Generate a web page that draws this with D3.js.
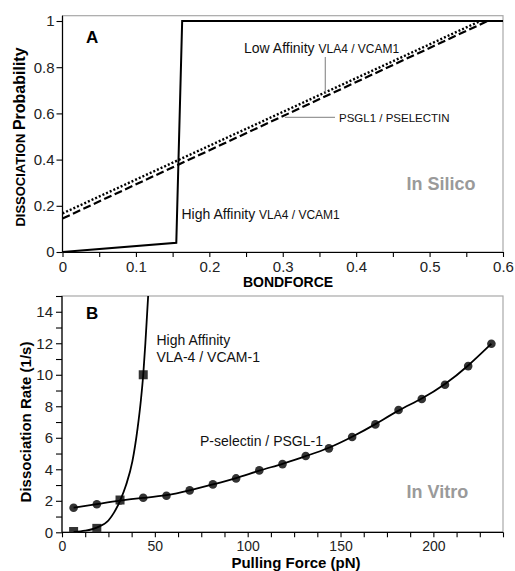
<!DOCTYPE html>
<html>
<head>
<meta charset="utf-8">
<script src="https://cdn.jsdelivr.net/npm/d3@7"></script>
<style>
  body { margin: 0; background: #fff; }
  text { font-family: "Liberation Sans", Arial, sans-serif; }
</style>
</head>
<body>
<script>
// ---------- panel A data (in silico) ----------
var highAffForce = [0, 0.155, 0.163, 0.6]
var highAffProb  = [0, 0.04, 1, 1]
var lowAffForce  = [0, 0.569]
var lowAffProb   = [0.167, 1]
var psglForce    = [0, 0.579]
var psglProb     = [0.145, 1]
var xTicksA      = [0, 0.1, 0.2, 0.3, 0.4, 0.5, 0.6]
var xMinorA      = [0.05, 0.15, 0.25, 0.35, 0.45, 0.55]
var yTicksA      = [0, 0.2, 0.4, 0.6, 0.8, 1]

// ---------- panel B data (in vitro) ----------
var pselForce = [6.25, 18.75, 31.25, 43.75, 56.25, 68.75, 81.25, 93.75, 106.25, 118.75,
                 131.25, 143.75, 156.25, 168.75, 181.25, 193.75, 206.25, 218.75, 231.25]
var pselRate  = [1.56, 1.78, 2.02, 2.19, 2.32, 2.66, 3.04, 3.42, 3.93, 4.33,
                 4.84, 5.33, 6.05, 6.85, 7.76, 8.46, 9.37, 10.55, 11.97]
var vlaForce  = [6.25, 18.75, 31.25, 43.75]
var vlaRate   = [0.05, 0.25, 2.05, 10.0]
// fitted curve for high affinity VLA-4
var vlaFitForce = [6.25, 12.5, 18.75, 25, 28, 31.25, 34.5, 37.9, 40.7, 42.5, 43.75, 44.9, 45.9, 46.4]
var vlaFitRate  = [0.02, 0.1, 0.3, 0.75, 1.25, 2.0, 3.0, 4.5, 6.6, 8.4, 10, 12, 14, 15]
var xTicksB = [0, 50, 100, 150, 200]
var xMinorB = [12.5, 25, 37.5, 62.5, 75, 87.5, 112.5, 125, 137.5, 162.5, 175, 187.5, 212.5, 225, 237.5]
var yTicksB = [0, 2, 4, 6, 8, 10, 12, 14]
var yMinorB = [1, 3, 5, 7, 9, 11, 13, 15]

var width = 515
var height = 571

var svg = d3.select("body").append("svg")
    .attr("width", width)
    .attr("height", height)

function estiloEje(g, size) {
    g.selectAll("path").attr("stroke", "#000").attr("stroke-width", 1.2)
    g.selectAll("line").attr("stroke", "#000").attr("stroke-width", 1.1)
    g.selectAll("text").attr("font-size", size || 15).attr("fill", "#222")
        .attr("font-family", "'Liberation Sans', Arial, sans-serif")
}

// ================= PANEL A =================
var xA = d3.scaleLinear().domain([0, 0.6]).range([62.5, 503])
var yA = d3.scaleLinear().domain([0, 1]).range([252, 21])

var gA = svg.append("g")

// marco gris
gA.append("rect")
    .attr("x", xA(0)).attr("y", yA(1.023))
    .attr("width", xA(0.6) - xA(0)).attr("height", yA(0) - yA(1.023))
    .attr("fill", "none").attr("stroke", "#a8a8a8").attr("stroke-width", 1.2)

gA.append("g")
    .attr("transform", "translate(0," + yA(0) + ")")
    .call(d3.axisBottom(xA).tickValues(xMinorA).tickSize(5).tickFormat(""))
    .call(g => g.select(".domain").remove())
    .call(estiloEje)
gA.append("g")
    .attr("transform", "translate(0," + yA(0) + ")")
    .call(d3.axisBottom(xA).tickValues(xTicksA).tickSize(5).tickSizeOuter(0).tickPadding(4).tickFormat(d3.format("")))
    .call(estiloEje)
gA.append("g")
    .attr("transform", "translate(" + xA(0) + ",0)")
    .call(d3.axisLeft(yA).tickValues(yTicksA).tickSize(6).tickSizeOuter(0).tickPadding(2).tickFormat(d3.format("")))
    .call(estiloEje)
    .call(g => g.select(".domain").attr("d", "M0," + yA(0) + "V" + yA(1.023)))

var lineaA = d3.line().x(d => xA(d[0])).y(d => yA(d[1]))

gA.append("path")
    .attr("d", lineaA(d3.zip(psglForce, psglProb)))
    .attr("fill", "none").attr("stroke", "#000").attr("stroke-width", 2.2)
    .attr("stroke-dasharray", "8,3.5")
gA.append("path")
    .attr("d", lineaA(d3.zip(lowAffForce, lowAffProb)))
    .attr("fill", "none").attr("stroke", "#000").attr("stroke-width", 2.4)
    .attr("stroke-dasharray", "2,2")
gA.append("path")
    .attr("d", lineaA(d3.zip(highAffForce, highAffProb)))
    .attr("fill", "none").attr("stroke", "#000").attr("stroke-width", 2)

// anotaciones
gA.append("text").attr("x", 86).attr("y", 43)
    .attr("font-size", 17).attr("font-weight", "bold").text("A")

var lab1 = gA.append("text").attr("x", 244).attr("y", 53).attr("fill", "#111")
lab1.append("tspan").attr("font-size", 14).text("Low Affinity ")
lab1.append("tspan").attr("font-size", 12).text("VLA4 / VCAM1")
gA.append("line")
    .attr("x1", xA(0.358)).attr("x2", xA(0.358))
    .attr("y1", 57).attr("y2", yA(0.69))
    .attr("stroke", "#999").attr("stroke-width", 1.3)

gA.append("line")
    .attr("x1", xA(0.303)).attr("x2", 335)
    .attr("y1", yA(0.583)).attr("y2", yA(0.583))
    .attr("stroke", "#999").attr("stroke-width", 1.3)
gA.append("text").attr("x", 339).attr("y", 121.5)
    .attr("font-size", 11.5).attr("fill", "#111").text("PSGL1 / PSELECTIN")

var lab2 = gA.append("text").attr("x", 181.5).attr("y", 218.5).attr("fill", "#111")
lab2.append("tspan").attr("font-size", 14).text("High Affinity ")
lab2.append("tspan").attr("font-size", 12).text("VLA4 / VCAM1")

gA.append("text").attr("x", 406.5).attr("y", 190)
    .attr("font-size", 18).attr("font-weight", "bold").attr("fill", "#9a9a9a").text("In Silico")

gA.append("text").attr("x", 288).attr("y", 287).attr("text-anchor", "middle")
    .attr("font-size", 14).attr("font-weight", "bold").text("BONDFORCE")

var ylabA = gA.append("text")
    .attr("transform", "translate(25,137) rotate(-90)")
    .attr("text-anchor", "middle").attr("font-weight", "bold")
ylabA.append("tspan").attr("font-size", 13).text("DISSOCIATION ")
ylabA.append("tspan").attr("font-size", 16).text("Probability")

// ================= PANEL B =================
var xB = d3.scaleLinear().domain([0, 237.5]).range([62, 503])
var yB = d3.scaleLinear().domain([0, 15]).range([532.3, 296])

var gB = svg.append("g")

gB.append("rect")
    .attr("x", xB(0)).attr("y", yB(15))
    .attr("width", xB(237.5) - xB(0)).attr("height", yB(0) - yB(15))
    .attr("fill", "none").attr("stroke", "#a8a8a8").attr("stroke-width", 1.2)

gB.append("defs").append("clipPath").attr("id", "clipB")
    .append("rect")
    .attr("x", xB(0)).attr("y", yB(15))
    .attr("width", xB(237.5) - xB(0)).attr("height", yB(0) - yB(15))

gB.append("g")
    .attr("transform", "translate(0," + yB(0) + ")")
    .call(d3.axisBottom(xB).tickValues(xMinorB).tickSize(5).tickFormat(""))
    .call(g => g.select(".domain").remove())
    .call(estiloEje)
gB.append("g")
    .attr("transform", "translate(0," + yB(0) + ")")
    .call(d3.axisBottom(xB).tickValues(xTicksB).tickSize(5).tickSizeOuter(0).tickPadding(3.5))
    .call(g => estiloEje(g, 14))
    .call(g => g.select(".domain").attr("d", "M" + xB(0) + ",0H" + xB(237.5)))
gB.append("g")
    .attr("transform", "translate(" + xB(0) + ",0)")
    .call(d3.axisLeft(yB).tickValues(yMinorB).tickSize(6).tickFormat(""))
    .call(g => g.select(".domain").remove())
    .call(estiloEje)
gB.append("g")
    .attr("transform", "translate(" + xB(0) + ",0)")
    .call(d3.axisLeft(yB).tickValues(yTicksB).tickSize(6).tickSizeOuter(0).tickPadding(3))
    .call(estiloEje)
    .call(g => g.select(".domain").attr("d", "M0," + yB(0) + "V" + yB(15)))

var plotB = gB.append("g").attr("clip-path", "url(#clipB)")

// marcadores
plotB.selectAll("circle")
    .data(d3.zip(pselForce, pselRate))
    .enter().append("circle")
    .attr("cx", d => xB(d[0]))
    .attr("cy", d => yB(d[1]))
    .attr("r", 4.3)
    .attr("fill", "#333")

plotB.selectAll("rect.sq")
    .data(d3.zip(vlaForce, vlaRate))
    .enter().append("rect")
    .attr("class", "sq")
    .attr("x", d => xB(d[0]) - 4.5)
    .attr("y", d => yB(d[1]) - 4.5)
    .attr("width", 9).attr("height", 9)
    .attr("fill", "#333")

var lineaB = d3.line().x(d => xB(d[0])).y(d => yB(d[1]))

plotB.append("path")
    .attr("d", lineaB.curve(d3.curveBasis)(d3.zip(pselForce, pselRate)))
    .attr("fill", "none").attr("stroke", "#000").attr("stroke-width", 1.8)
plotB.append("path")
    .attr("d", lineaB.curve(d3.curveMonotoneX)(d3.zip(vlaFitForce, vlaFitRate)))
    .attr("fill", "none").attr("stroke", "#000").attr("stroke-width", 1.8)

gB.append("text").attr("x", 86).attr("y", 319)
    .attr("font-size", 17).attr("font-weight", "bold").text("B")
gB.append("text").attr("x", 156.5).attr("y", 345)
    .attr("font-size", 14).attr("fill", "#111").text("High Affinity")
gB.append("text").attr("x", 156.5).attr("y", 362)
    .attr("font-size", 14).attr("fill", "#111").text("VLA-4 / VCAM-1")
gB.append("text").attr("x", 200).attr("y", 446)
    .attr("font-size", 14).attr("fill", "#111").text("P-selectin / PSGL-1")
gB.append("text").attr("x", 406.5).attr("y", 498)
    .attr("font-size", 18).attr("font-weight", "bold").attr("fill", "#9a9a9a").text("In Vitro")

gB.append("text").attr("x", 296).attr("y", 568).attr("text-anchor", "middle")
    .attr("font-size", 15).attr("font-weight", "bold").text("Pulling Force (pN)")
gB.append("text")
    .attr("transform", "translate(31,422) rotate(-90)")
    .attr("text-anchor", "middle")
    .attr("font-size", 15).attr("font-weight", "bold").text("Dissociation Rate (1/s)")
</script>
</body>
</html>
